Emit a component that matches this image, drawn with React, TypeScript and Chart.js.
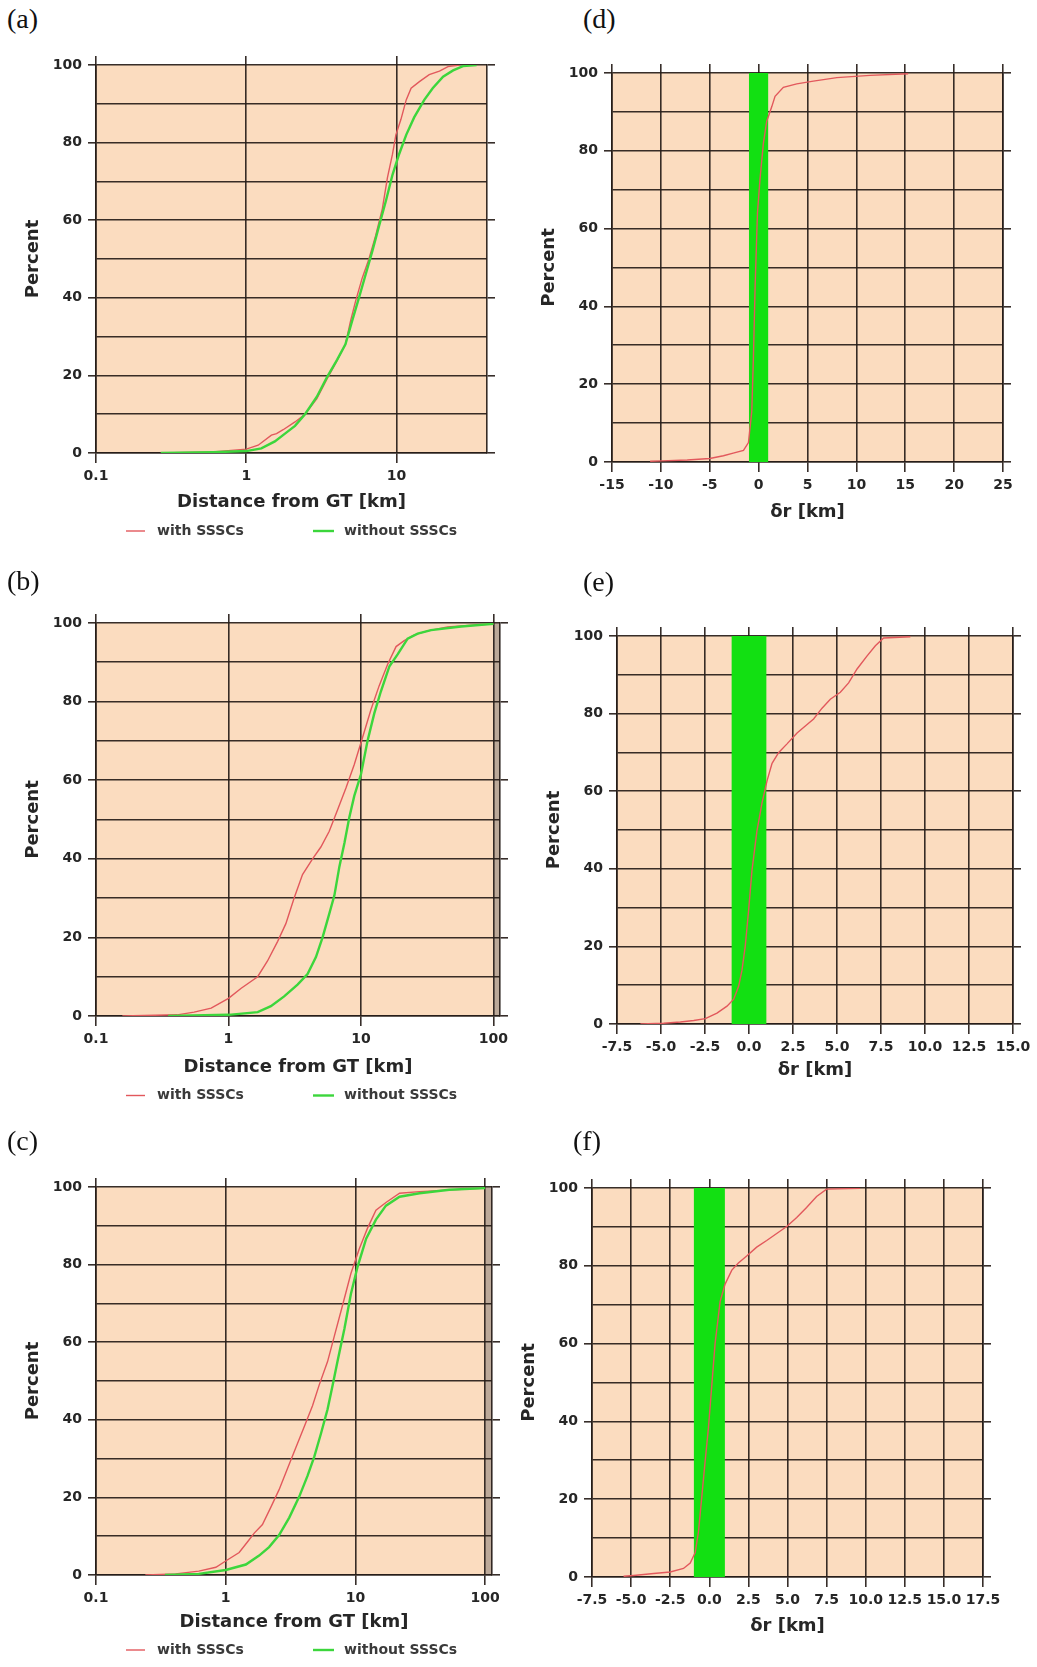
import React, { useEffect, useRef } from "react";
import { Chart, registerables } from "chart.js";

Chart.register(...registerables);

// ---------------- data ----------------
const Y_GRID = [0, 10, 20, 30, 40, 50, 60, 70, 80, 90, 100];
const Y_LABELED = [0, 20, 40, 60, 80, 100];

const LOG_TICKS_A = [0.1, 1, 10];
const LOG_TICKS_BC = [0.1, 1, 10, 100];
const LOG_TICK_LABELS = ["0.1", "1", "10", "100"];

const D_TICKS = [-15, -10, -5, 0, 5, 10, 15, 20, 25];
const D_TICK_LABELS = ["-15", "-10", "-5", "0", "5", "10", "15", "20", "25"];
const E_TICKS = [-7.5, -5, -2.5, 0, 2.5, 5, 7.5, 10, 12.5, 15];
const E_TICK_LABELS = ["-7.5", "-5.0", "-2.5", "0.0", "2.5", "5.0", "7.5", "10.0", "12.5", "15.0"];
const F_TICKS = [-7.5, -5, -2.5, 0, 2.5, 5, 7.5, 10, 12.5, 15, 17.5];
const F_TICK_LABELS = ["-7.5", "-5.0", "-2.5", "0.0", "2.5", "5.0", "7.5", "10.0", "12.5", "15.0", "17.5"];

const SERIES_WITH = "with SSSCs";
const SERIES_WITHOUT = "without SSSCs";
const SERIES_DR = "δr";

// accuracy band (+/- 1 km)
const BAND_X = [-1, 1];
const BAND_Y = [100, 100];

// (a)
const A_WITH_X = [0.27, 0.6, 1.0, 1.2, 1.47, 1.59, 1.76, 2.11, 2.46, 2.95, 3.44, 3.92, 4.57, 4.94, 5.33, 5.9, 6.55, 7.26, 8.05, 8.7, 9.4, 9.9, 10.7, 11.6, 12.5, 14.2, 16.5, 19.3, 22.0, 26.3];
const A_WITH_Y = [0, 0.3, 1, 2, 4.6, 5, 6, 8, 10, 14, 19, 23, 28, 34, 39, 45, 50, 56, 63, 71, 77, 82, 86, 91, 94, 95.7, 97.5, 98.4, 99.6, 100];
const A_WITHOUT_X = [0.27, 0.6, 1.0, 1.26, 1.55, 1.81, 2.11, 2.46, 2.95, 3.44, 4.02, 4.57, 5.06, 5.62, 6.23, 6.9, 7.65, 8.5, 9.4, 10.4, 11.6, 13.1, 15.3, 17.4, 20.4, 23.8, 27.7, 34.1];
const A_WITHOUT_Y = [0, 0.2, 0.5, 1.2, 3, 5, 7, 10, 14.5, 19.5, 24, 28, 34, 40, 46, 52, 58.5, 65, 71.7, 77, 82, 86.5, 91, 94, 97, 98.6, 99.7, 100];

// (b)
const B_WITH_X = [0.158, 0.41, 0.55, 0.74, 1.0, 1.24, 1.66, 1.97, 2.35, 2.71, 3.13, 3.62, 4.31, 4.98, 5.76, 6.66, 7.7, 8.9, 10.3, 11.9, 13.7, 15.9, 18.4, 21.2, 25.3, 31.9, 45, 100];
const B_WITH_Y = [0, 0.3, 1, 2, 4.5, 7, 10, 14, 19, 23.5, 30, 36, 40, 43, 47, 52.5, 58, 64, 71, 78, 84, 89.5, 94, 95.5, 97, 98, 99, 99.8];
const B_WITHOUT_X = [0.35, 1.0, 1.66, 2.09, 2.63, 3.32, 3.95, 4.57, 5.13, 5.76, 6.3, 6.87, 7.5, 8.16, 8.9, 10.0, 11.2, 12.6, 14.1, 16.4, 18.9, 22.5, 26.8, 33.8, 57, 100];
const B_WITHOUT_Y = [0, 0.3, 1, 2.5, 5, 8, 10.7, 15, 20, 26, 30.7, 38, 44, 50.5, 56, 61.5, 70, 77, 82.5, 89, 92, 96, 97.3, 98.2, 99.1, 99.8];

// (c)
const C_WITH_X = [0.24, 0.41, 0.62, 0.84, 1.0, 1.27, 1.47, 1.66, 1.92, 2.23, 2.58, 2.99, 3.47, 4.03, 4.67, 5.26, 6.1, 6.87, 7.97, 9.23, 10.7, 12.4, 14.4, 17.2, 21.9, 31.2, 100];
const C_WITH_Y = [0, 0.3, 1, 2, 3.6, 5.8, 8.5, 10.8, 13, 17.5, 22, 27.4, 32.8, 38.2, 43.6, 49, 55, 61.5, 69.6, 77.7, 84, 89.4, 94, 96, 98.4, 98.8, 99.7];
const C_WITHOUT_X = [0.34, 0.62, 1.0, 1.43, 1.81, 2.16, 2.58, 3.09, 3.69, 4.28, 4.82, 5.42, 6.1, 6.68, 7.3, 8.22, 9.23, 10.4, 12.1, 14.4, 17.2, 21.9, 31.2, 53, 100];
const C_WITHOUT_Y = [0, 0.3, 1.3, 2.7, 5, 7.2, 10.3, 14.8, 20.2, 25.6, 30.5, 36.4, 42.7, 49, 55.3, 63.4, 72.4, 79.5, 86.7, 91.6, 95.2, 97.5, 98.4, 99.3, 99.7];

// (d)
const D_X = [-11.1, -9.9, -7.3, -5, -3.6, -2.6, -1.55, -1.04, -0.7, -0.53, -0.36, -0.12, 0.15, 0.49, 0.83, 1.34, 1.68, 2.53, 3.9, 5.6, 8.0, 11.4, 15.3];
const D_Y = [0.2, 0.3, 0.5, 0.9, 1.6, 2.3, 3, 5, 13, 27, 45, 64, 73, 82, 87.6, 91.3, 94, 96.3, 97.2, 97.9, 98.8, 99.4, 99.8];

// (e)
const E_X = [-6.17, -4.85, -3.9, -3.14, -2.48, -1.82, -1.25, -0.87, -0.59, -0.4, -0.21, -0.02, 0.17, 0.45, 0.74, 1.02, 1.31, 1.69, 2.16, 2.73, 3.2, 3.67, 4.15, 4.62, 5.19, 5.66, 6.14, 6.7, 7.18, 7.65, 9.17];
const E_Y = [0, 0.2, 0.5, 0.9, 1.4, 2.8, 4.6, 6.4, 9.7, 13.8, 20.2, 29.4, 39.6, 49.7, 57, 62.6, 67.2, 70, 72.2, 75, 76.8, 78.6, 81.4, 83.7, 85.5, 87.9, 91.5, 94.8, 97.5, 99.5, 99.8];

// (f)
const F_X = [-5.48, -4.84, -3.56, -2.5, -1.65, -1.22, -0.9, -0.69, -0.48, -0.27, -0.05, 0.16, 0.37, 0.69, 1.01, 1.44, 1.86, 2.39, 3.03, 3.67, 4.31, 4.95, 5.59, 6.22, 6.86, 7.5, 9.63];
const F_Y = [0.2, 0.4, 0.9, 1.3, 2.2, 3.6, 6.3, 11.7, 20.6, 29.6, 38.6, 49.3, 60, 70.8, 75.3, 78.9, 80.7, 82.5, 84.8, 86.5, 88.3, 90.1, 92.4, 95, 97.8, 99.7, 99.9];

// ---------------- styles ----------------
const FONT_FAMILY = "'DejaVu Sans', 'Liberation Sans', sans-serif";
const TICK_FONT = { family: FONT_FAMILY, size: 14, weight: "bold" as const };
const TITLE_FONT = { family: FONT_FAMILY, size: 18, weight: "bold" as const };
const TEXT_COLOR = "#262626";
const GRID_COLOR = "rgba(38,28,24,0.92)";
const GRID_W = 1.6;
const PLOT_BG = "#FBDCBF";
const STRIPE_BG = "#BCA999";
const RED = "#E2585C";
const GREEN = "#3CD63C";
const BAND_COLOR = "#12E012";
const Y_AXIS_W = 77;
const MIRROR_W = 10;

const zip = (xs: number[], ys: number[]) => xs.map((x, i) => ({ x, y: ys[i] }));

const panelBgPlugin = {
  id: "panelBg",
  beforeDraw(chart: any, _args: any, opts: any) {
    const { ctx, chartArea } = chart;
    const { left, top, right, bottom } = chartArea;
    ctx.save();
    ctx.fillStyle = PLOT_BG;
    ctx.fillRect(left, top, right - left, bottom - top);
    if (opts && opts.stripeFrom != null) {
      const xs = chart.scales.x.getPixelForValue(opts.stripeFrom);
      ctx.fillStyle = STRIPE_BG;
      ctx.fillRect(xs, top, right - xs, bottom - top);
    }
    ctx.restore();
  },
};

const cdfLegendPlugin = {
  id: "cdfLegend",
  afterDraw(chart: any, _args: any, opts: any) {
    if (!opts || !opts.items) return;
    const { ctx, chartArea } = chart;
    const y = chartArea.bottom + opts.dy;
    ctx.save();
    opts.items.forEach((it: any) => {
      const ds = chart.data.datasets[it.dataset];
      ctx.strokeStyle = ds.borderColor;
      ctx.lineWidth = ds.borderWidth;
      ctx.beginPath();
      ctx.moveTo(chartArea.left + it.x0, y);
      ctx.lineTo(chartArea.left + it.x1, y);
      ctx.stroke();
      ctx.fillStyle = "#3a3a3a";
      ctx.font = `bold 14px ${FONT_FAMILY}`;
      ctx.textBaseline = "middle";
      ctx.textAlign = "left";
      ctx.fillText(ds.label, chartArea.left + it.tx, y);
    });
    ctx.restore();
  },
};

type Series = { label: string; xs: number[]; ys: number[]; color: string; width: number; order: number };
type PanelCfg = {
  tag: string;
  tagX: number;
  tagY: number;
  canvas: { x: number; y: number; w: number; h: number };
  area: { L: number; T: number; R: number; B: number };
  xH: number;
  xType: "logarithmic" | "linear";
  xMin: number;
  xMax: number;
  xTicks: number[];
  xTickLabels: string[];
  xTitle: string;
  series: Series[];
  band: boolean;
  stripeFrom?: number;
  legendDy?: number;
};

const LEGEND_ITEMS = [
  { dataset: 0, x0: 30, x1: 49, tx: 61 },
  { dataset: 1, x0: 217, x1: 238, tx: 248 },
];

const COL1 = { x: 0, w: 515 };
const COL2 = { x: 505, w: 532 };
const ROW1 = { y: 40, h: 520 };
const ROW2 = { y: 560, h: 560 };
const ROW3 = { y: 1120, h: 547 };

const logSeries = (wx: number[], wy: number[], ox: number[], oy: number[]): Series[] => [
  { label: SERIES_WITH, xs: wx, ys: wy, color: RED, width: 1.4, order: 1 },
  { label: SERIES_WITHOUT, xs: ox, ys: oy, color: GREEN, width: 2.4, order: 0 },
];
const drSeries = (xs: number[], ys: number[]): Series[] => [
  { label: SERIES_DR, xs, ys, color: RED, width: 1.4, order: 0 },
];

const PANELS: PanelCfg[] = [
  {
    tag: "(a)", tagX: 7, tagY: 5,
    canvas: { x: COL1.x, y: ROW1.y, w: COL1.w, h: ROW1.h },
    area: { L: 96, T: 65, R: 487, B: 453 }, xH: 64,
    xType: "logarithmic", xMin: 0.1, xMax: 40, xTicks: LOG_TICKS_A, xTickLabels: LOG_TICK_LABELS,
    xTitle: "Distance from GT [km]",
    series: logSeries(A_WITH_X, A_WITH_Y, A_WITHOUT_X, A_WITHOUT_Y), band: false, legendDy: 78,
  },
  {
    tag: "(b)", tagX: 7, tagY: 567,
    canvas: { x: COL1.x, y: ROW2.y, w: COL1.w, h: ROW2.h },
    area: { L: 96, T: 623, R: 500, B: 1016 }, xH: 66,
    xType: "logarithmic", xMin: 0.1, xMax: 112, xTicks: LOG_TICKS_BC, xTickLabels: LOG_TICK_LABELS,
    xTitle: "Distance from GT [km]",
    series: logSeries(B_WITH_X, B_WITH_Y, B_WITHOUT_X, B_WITHOUT_Y), band: false, stripeFrom: 100, legendDy: 79.5,
  },
  {
    tag: "(c)", tagX: 7, tagY: 1127,
    canvas: { x: COL1.x, y: ROW3.y, w: COL1.w, h: ROW3.h },
    area: { L: 96, T: 1187, R: 492, B: 1575 }, xH: 62,
    xType: "logarithmic", xMin: 0.1, xMax: 113, xTicks: LOG_TICKS_BC, xTickLabels: LOG_TICK_LABELS,
    xTitle: "Distance from GT [km]",
    series: logSeries(C_WITH_X, C_WITH_Y, C_WITHOUT_X, C_WITHOUT_Y), band: false, stripeFrom: 100, legendDy: 75,
  },
  {
    tag: "(d)", tagX: 583, tagY: 5,
    canvas: { x: COL2.x, y: ROW1.y, w: COL2.w, h: ROW1.h },
    area: { L: 612, T: 73, R: 1003, B: 462 }, xH: 65,
    xType: "linear", xMin: -15, xMax: 25, xTicks: D_TICKS, xTickLabels: D_TICK_LABELS,
    xTitle: "δr [km]", series: drSeries(D_X, D_Y), band: true,
  },
  {
    tag: "(e)", tagX: 583, tagY: 568,
    canvas: { x: COL2.x, y: ROW2.y, w: COL2.w, h: ROW2.h },
    area: { L: 617, T: 636, R: 1013, B: 1024 }, xH: 61,
    xType: "linear", xMin: -7.5, xMax: 15, xTicks: E_TICKS, xTickLabels: E_TICK_LABELS,
    xTitle: "δr [km]", series: drSeries(E_X, E_Y), band: true,
  },
  {
    tag: "(f)", tagX: 573, tagY: 1127,
    canvas: { x: COL2.x, y: ROW3.y, w: COL2.w, h: ROW3.h },
    area: { L: 592, T: 1188, R: 983, B: 1577 }, xH: 64,
    xType: "linear", xMin: -7.5, xMax: 17.5, xTicks: F_TICKS, xTickLabels: F_TICK_LABELS,
    xTitle: "δr [km]", series: drSeries(F_X, F_Y), band: true,
  },
];

function majorTickColor(ctx: any) {
  return ctx && ctx.tick && Y_LABELED.includes(ctx.tick.value) ? GRID_COLOR : "rgba(0,0,0,0)";
}

function buildConfig(p: PanelCfg): any {
  const { canvas: c, area: a } = p;
  const padding = {
    left: a.L - c.x - Y_AXIS_W,
    top: a.T - c.y - MIRROR_W,
    right: c.x + c.w - a.R - MIRROR_W,
    bottom: c.y + c.h - a.B - p.xH,
  };
  const datasets: any[] = p.series.map((s) => ({
    label: s.label,
    data: zip(s.xs, s.ys),
    borderColor: s.color,
    borderWidth: s.width,
    pointRadius: 0,
    fill: false,
    tension: 0,
    order: s.order,
  }));
  if (p.band) {
    datasets.push({
      label: "±1 km",
      data: zip(BAND_X, BAND_Y),
      borderWidth: 0,
      borderColor: BAND_COLOR,
      backgroundColor: BAND_COLOR,
      fill: "origin",
      pointRadius: 0,
      order: 10,
    });
  }
  const z = p.band ? 1 : 0;
  const setXTicks = (s: any) => {
    s.ticks = p.xTicks.map((v) => ({ value: v }));
  };
  const setYTicks = (s: any) => {
    s.ticks = Y_GRID.map((v) => ({ value: v }));
  };
  return {
    type: "line",
    data: { datasets },
    plugins: [panelBgPlugin, cdfLegendPlugin],
    options: {
      responsive: false,
      animation: false,
      events: [],
      layout: { padding },
      plugins: {
        legend: { display: false },
        tooltip: { enabled: false },
        panelBg: { stripeFrom: p.stripeFrom ?? null },
        cdfLegend: p.legendDy != null ? { dy: p.legendDy, items: LEGEND_ITEMS } : {},
      },
      scales: {
        x: {
          type: p.xType,
          position: "bottom",
          min: p.xMin,
          max: p.xMax,
          z,
          afterBuildTicks: setXTicks,
          afterFit: (s: any) => {
            s.height = p.xH;
          },
          ticks: {
            autoSkip: false,
            maxRotation: 0,
            minRotation: 0,
            padding: 5,
            font: TICK_FONT,
            color: TEXT_COLOR,
            callback: (_v: any, i: number) => p.xTickLabels[i],
          },
          grid: { color: GRID_COLOR, lineWidth: GRID_W, tickLength: 10 },
          border: { display: true, color: GRID_COLOR, width: GRID_W },
          title: { display: true, text: p.xTitle, font: TITLE_FONT, color: TEXT_COLOR, padding: { top: 4, bottom: 4 } },
        },
        x2: {
          type: p.xType,
          position: "top",
          min: p.xMin,
          max: p.xMax,
          z,
          afterBuildTicks: setXTicks,
          afterFit: (s: any) => {
            s.height = MIRROR_W;
          },
          ticks: { display: false },
          grid: { color: GRID_COLOR, lineWidth: GRID_W, tickLength: 9, drawOnChartArea: false },
          border: { display: false },
        },
        y: {
          type: "linear",
          position: "left",
          min: 0,
          max: 100,
          z,
          afterBuildTicks: setYTicks,
          afterFit: (s: any) => {
            s.width = Y_AXIS_W;
          },
          ticks: {
            autoSkip: false,
            padding: 6,
            font: TICK_FONT,
            color: TEXT_COLOR,
            callback: (v: any) => (Y_LABELED.includes(v) ? String(v) : ""),
          },
          grid: { color: GRID_COLOR, lineWidth: GRID_W, tickLength: 8, tickColor: majorTickColor },
          border: { display: true, color: GRID_COLOR, width: GRID_W },
          title: { display: true, text: "Percent", font: TITLE_FONT, color: TEXT_COLOR, padding: { top: 4, bottom: 4 } },
        },
        y2: {
          type: "linear",
          position: "right",
          min: 0,
          max: 100,
          z,
          afterBuildTicks: setYTicks,
          afterFit: (s: any) => {
            s.width = MIRROR_W;
          },
          ticks: { display: false },
          grid: { color: GRID_COLOR, lineWidth: GRID_W, tickLength: 8, drawOnChartArea: false, tickColor: majorTickColor },
          border: { display: true, color: GRID_COLOR, width: GRID_W },
        },
      },
    },
  };
}

function Panel({ p }: { p: PanelCfg }) {
  const ref = useRef<HTMLCanvasElement | null>(null);
  useEffect(() => {
    if (!ref.current) return;
    const chart = new Chart(ref.current, buildConfig(p));
    return () => chart.destroy();
  }, [p]);
  const c = p.canvas;
  return (
    <>
      <canvas
        ref={ref}
        width={c.w}
        height={c.h}
        style={{ position: "absolute", left: c.x, top: c.y, width: c.w, height: c.h, display: "block" }}
      />
      <div
        style={{
          position: "absolute",
          left: p.tagX,
          top: p.tagY,
          fontFamily: "'Liberation Serif', 'Times New Roman', serif",
          fontSize: 28,
          lineHeight: "28px",
          color: "#111",
        }}
      >
        {p.tag}
      </div>
    </>
  );
}

export default function App() {
  return (
    <div style={{ position: "absolute", left: 0, top: 0, width: 1037, height: 1667, background: "#fff", overflow: "hidden" }}>
      {PANELS.map((p) => (
        <Panel key={p.tag} p={p} />
      ))}
    </div>
  );
}
